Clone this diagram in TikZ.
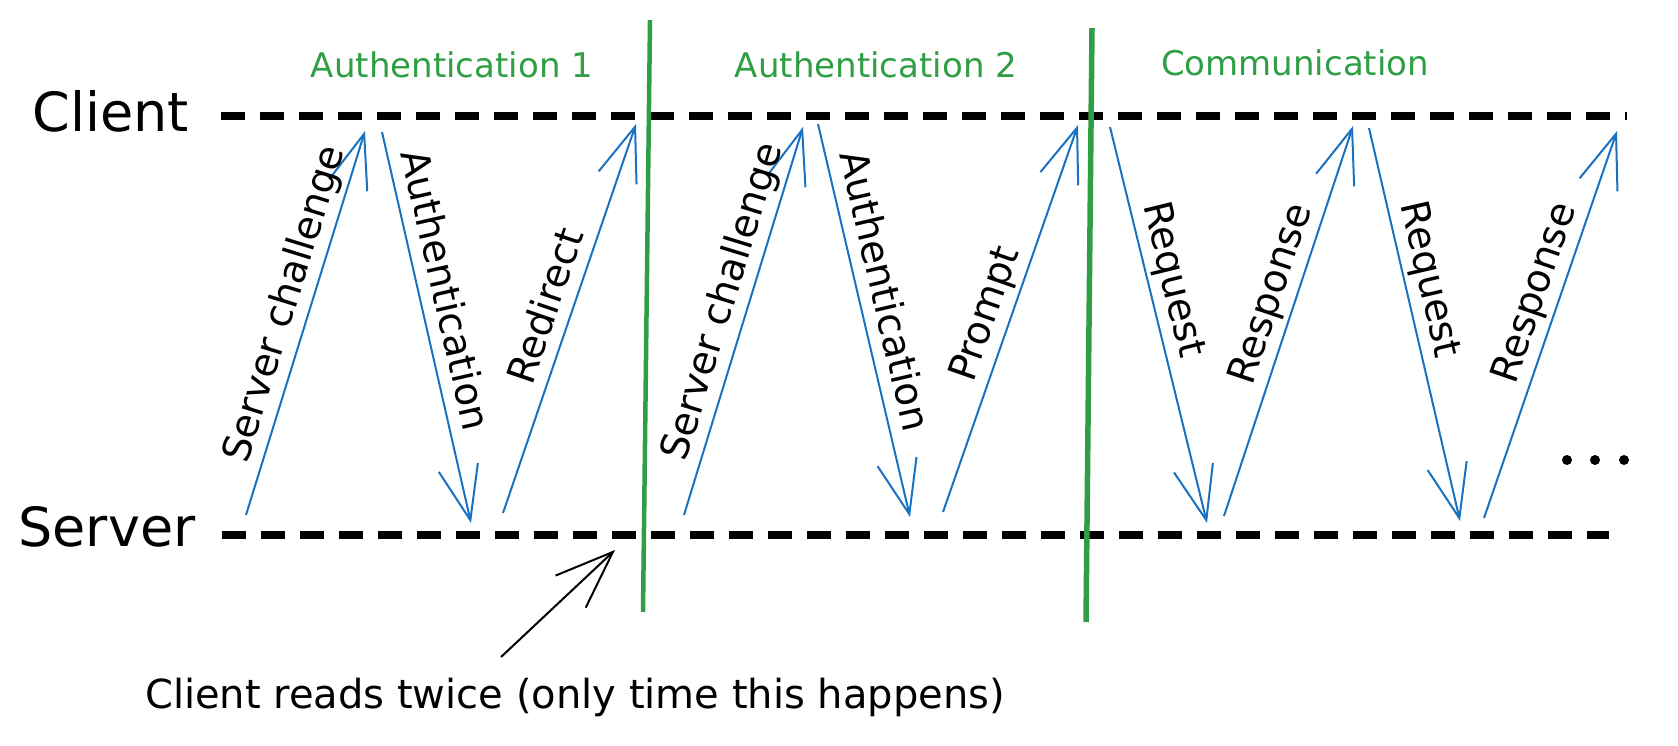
\documentclass[tikz,border=0pt]{standalone}
\usepackage{fontspec}
\setmainfont{DejaVu Sans}
\usetikzlibrary{arrows.meta}
\definecolor{msgblue}{HTML}{1971C2}
\definecolor{phasegreen}{HTML}{2F9E44}

\begin{document}
\begin{tikzpicture}[x=1pt,y=-1pt,
		lifeline/.style={line width=8pt,dash pattern=on 24pt off 15pt},
		phase/.style={phasegreen,line width=4.5pt},
		phasetitle/.style={anchor=base,text=phasegreen,font=\fontsize{34}{40}\selectfont},
		side/.style={anchor=base,font=\fontsize{54}{60}\selectfont},
		msg/.style={msgblue,line width=2pt,-{Straight Barb[length=54pt,width=40pt]}},
		msglabel/.style={sloped,above=6pt,inner sep=4pt,text=black,text height=0.75em,text depth=0.25em,font=\fontsize{39}{44}\selectfont}]
	\useasboundingbox (0,0) rectangle (1678,746);
	\draw (111,132) node [side] (client) {Client};
	\draw (107,546) node [side] (server) {Server};
	\draw[lifeline] (221,116) -- (1627,116);
	\draw[lifeline] (222,535) -- (1609,535);
	\draw (452,78) node [phasetitle] (auth1) {Authentication 1};
	\draw (876,78) node [phasetitle] (auth2) {Authentication 2};
	\draw (1295,76) node [phasetitle] (comm) {Communication};
	\draw[phase] (650,20) -- (643,612);
	\draw[phase,line width=5.5pt] (1092,28) -- (1086,622);
	\coordinate (s1) at (246,515);  \coordinate (c1) at (365,131);
	\coordinate (c2) at (382,132);  \coordinate (s2) at (471,523);
	\coordinate (s3) at (503,513);  \coordinate (c3) at (636,124);
	\coordinate (s4) at (684,515);  \coordinate (c4) at (803,127);
	\coordinate (c5) at (818,124);  \coordinate (s5) at (910,517);
	\coordinate (s6) at (943,512);  \coordinate (c6) at (1078,125);
	\coordinate (c7) at (1110,127); \coordinate (s7) at (1207,523);
	\coordinate (s8) at (1224,516); \coordinate (c8) at (1353,126);
	\coordinate (c9) at (1369,128); \coordinate (s9) at (1460,521);
	\coordinate (s10) at (1484,518); \coordinate (c10) at (1617,131);
	\draw[msg] (s1) -- node [msglabel,pos=0.53] {Server challenge} (c1);
	\draw[msg] (c2) -- node [msglabel,pos=0.42] {Authentication} (s2);
	\draw[msg] (s3) -- node [msglabel,pos=0.51] {Redirect} (c3);
	\draw[msg] (s4) -- node [msglabel,pos=0.53] {Server challenge} (c4);
	\draw[msg] (c5) -- node [msglabel,pos=0.44] {Authentication} (s5);
	\draw[msg] (s6) -- node [msglabel,pos=0.49] {Prompt} (c6);
	\draw[msg] (c7) -- node [msglabel,pos=0.40] {Request} (s7);
	\draw[msg] (s8) -- node [msglabel,pos=0.55] {Response} (c8);
	\draw[msg] (c9) -- node [msglabel,pos=0.40] {Request} (s9);
	\draw[msg] (s10) -- node [msglabel,pos=0.56] {Response} (c10);
	\fill (1567,460) circle (5pt) (1595,460) circle (5pt) (1624,460) circle (5pt);
	\draw (575,708) node [anchor=base,font=\fontsize{40}{46}\selectfont] (note) {Client reads twice (only time this happens)};
	\coordinate (notetail) at (501,657);
	\coordinate (notetip) at (615,550);
	\draw[line width=2pt,-{Straight Barb[length=58pt,width=44pt]}] (notetail) -- (notetip);
\end{tikzpicture}
\end{document}
